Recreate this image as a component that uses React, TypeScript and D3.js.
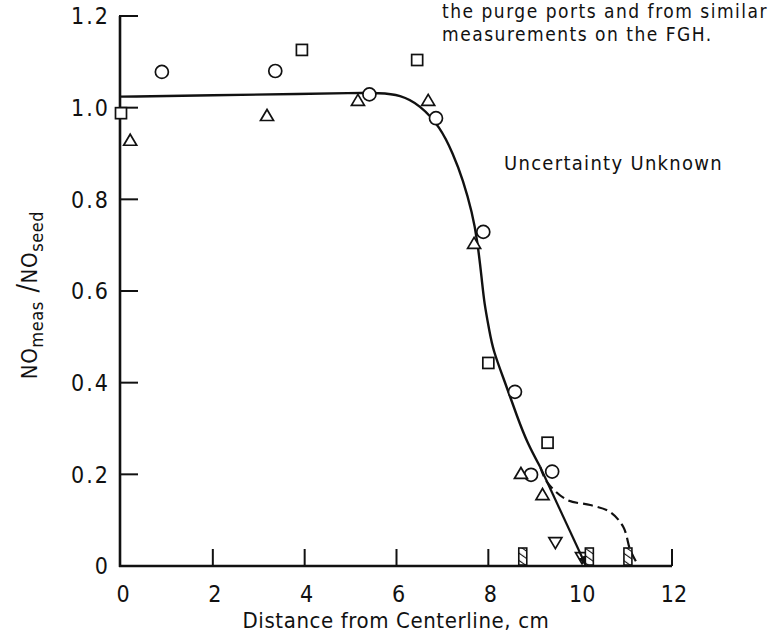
import React from 'react';
import * as d3 from 'd3';

// ---- data ----
const circleX = [0.89, 3.36, 5.41, 6.86, 7.89, 8.58, 8.93, 9.39];
const circleY = [1.078, 1.08, 1.029, 0.977, 0.729, 0.38, 0.199, 0.206];
const squareX = [0, 3.94, 6.45, 8.0, 9.29];
const squareY = [0.988, 1.126, 1.104, 0.443, 0.269];
const triUpX = [0.2, 3.18, 5.16, 6.69, 7.69, 8.71, 9.18];
const triUpY = [0.93, 0.984, 1.017, 1.017, 0.705, 0.203, 0.157];
const triDownX = [9.46, 10.04];
const triDownY = [0.05, 0.017];
const belowDetectX = [8.75, 10.2, 11.04];

const fitX = [0, 2, 4, 5.0, 5.64, 6.08, 6.51, 6.95, 7.23, 7.45, 7.65, 7.76, 7.86, 7.91, 8.02, 8.1, 8.37, 8.63, 8.85, 9.13];
const fitY = [1.024, 1.027, 1.03, 1.032, 1.032, 1.028, 1.006, 0.958, 0.9, 0.842, 0.77, 0.711, 0.624, 0.574, 0.515, 0.471, 0.399, 0.325, 0.268, 0.216];
const branchX = [9.13, 10.12];
const branchY = [0.216, 0.002];
const dashX = [9.13, 9.28, 9.72, 10.22, 10.65, 10.94, 11.09, 11.22];
const dashY = [0.216, 0.183, 0.144, 0.133, 0.118, 0.085, 0.035, 0.009];

const xTickLabels = [0, 2, 4, 6, 8, 10, 12];
const xTickMarks = [2, 4, 6, 8, 12];
const yTickLabels = ['0', '0.2', '0.4', '0.6', '0.8', '1.0', '1.2'];
const yTickValues = [0, 0.2, 0.4, 0.6, 0.8, 1.0, 1.2];

const FONT = "'DejaVu Sans Condensed', 'DejaVu Sans', sans-serif";

export default function App() {
  const x = d3.scaleLinear().domain([0, 12]).range([121, 672]);
  const y = d3.scaleLinear().domain([0, 1.2]).range([566, 16]);

  const smooth = d3.line<[number, number]>().x(d => x(d[0])).y(d => y(d[1])).curve(d3.curveBasis);
  const straight = d3.line<[number, number]>().x(d => x(d[0])).y(d => y(d[1]));
  const dashed = d3.line<[number, number]>().x(d => x(d[0])).y(d => y(d[1])).curve(d3.curveCatmullRom.alpha(0.5));

  const fit = fitX.map((v, i) => [v, fitY[i]] as [number, number]);
  const branch = branchX.map((v, i) => [v, branchY[i]] as [number, number]);
  const dash = dashX.map((v, i) => [v, dashY[i]] as [number, number]);

  const stroke = '#111';
  const r = 6.5;
  const sq = 11;
  const tri = (cx: number, cy: number, up: boolean) => {
    const h = 11, w = 13;
    return up
      ? `M${cx - w / 2},${cy + h / 2}L${cx + w / 2},${cy + h / 2}L${cx},${cy - h / 2}Z`
      : `M${cx - w / 2},${cy - h / 2}L${cx + w / 2},${cy - h / 2}L${cx},${cy + h / 2}Z`;
  };

  return (
    <svg width={775} height={638} style={{ position: 'absolute', left: 0, top: 0, background: '#fff' }}
      fontFamily={FONT}>
      <defs>
        <pattern id="hatch" patternUnits="userSpaceOnUse" width={6} height={6} patternTransform="rotate(-55)">
          <rect width={6} height={6} fill="#fff" />
          <line x1={0} y1={0} x2={0} y2={6} stroke="#111" strokeWidth={2.2} />
        </pattern>
        <marker id="arrow" viewBox="0 0 10 10" refX={9} refY={5} markerWidth={10} markerHeight={10}
          markerUnits="userSpaceOnUse" orient="auto">
          <path d="M0,1L10,5L0,9Z" fill="#111" />
        </marker>
      </defs>

      {/* axes */}
      <line x1={x(0) - 1} x2={x(0) - 1} y1={y(1.2)} y2={y(0) + 1} stroke={stroke} strokeWidth={2.6} />
      <line x1={x(0) - 2} x2={x(12)} y1={y(0)} y2={y(0)} stroke={stroke} strokeWidth={2.4} />
      {yTickValues.filter(v => v > 0).map(v => (
        <line key={'yt' + v} x1={x(0) - 2} x2={x(0) + 17} y1={y(v)} y2={y(v)} stroke={stroke} strokeWidth={2} />
      ))}
      {xTickMarks.map(v => (
        <line key={'xt' + v} x1={x(v)} x2={x(v)} y1={y(0)} y2={y(0) - 17} stroke={stroke} strokeWidth={2} />
      ))}

      {/* tick labels */}
      {yTickValues.map((v, i) => (
        <text key={'yl' + v} x={110} y={y(v)} dy="0.36em" textAnchor="end" fontSize={23} letterSpacing={2}
          fill="#111">{yTickLabels[i]}</text>
      ))}
      {xTickLabels.map(v => (
        <text key={'xl' + v} x={x(v) + 2} y={602} textAnchor="middle" fontSize={23} fill="#111">{v}</text>
      ))}

      {/* axis titles */}
      <text x={396} y={628} textAnchor="middle" fontSize={22} fill="#111" letterSpacing={0.6}>
        Distance from Centerline, cm
      </text>
      <text transform="translate(37,295) rotate(-90)" textAnchor="middle" fontSize={22} fill="#111" letterSpacing={0.6}>
        <tspan>NO</tspan><tspan fontSize={18} dy={6}>meas</tspan><tspan dy={-6} fontSize={28}> /</tspan><tspan>NO</tspan><tspan fontSize={18} dy={6}>seed</tspan>
      </text>

      {/* annotations */}
      <text x={442} y={18} fontSize={19} fill="#111" letterSpacing={1.5}>the purge ports and from similar</text>
      <text x={442} y={41} fontSize={19} fill="#111" letterSpacing={1.5}>measurements on the FGH.</text>
      <text x={504} y={170} fontSize={20} fill="#111" letterSpacing={1.3}>Uncertainty Unknown</text>

      {/* curves */}
      <path d={smooth(fit) || ''} fill="none" stroke={stroke} strokeWidth={2.4} />
      <path d={straight(branch) || ''} fill="none" stroke={stroke} strokeWidth={2.2} markerEnd="url(#arrow)" />
      <path d={dashed(dash) || ''} fill="none" stroke={stroke} strokeWidth={2.2} strokeDasharray="10,5" />

      {/* markers */}
      {circleX.map((v, i) => (
        <circle key={'c' + i} cx={x(v)} cy={y(circleY[i])} r={r} fill="#fff" stroke={stroke} strokeWidth={1.7} />
      ))}
      {squareX.map((v, i) => (
        <rect key={'s' + i} x={x(v) - sq / 2} y={y(squareY[i]) - sq / 2} width={sq} height={sq}
          fill="#fff" stroke={stroke} strokeWidth={1.7} />
      ))}
      {triUpX.map((v, i) => (
        <path key={'tu' + i} d={tri(x(v), y(triUpY[i]), true)} fill="#fff" stroke={stroke} strokeWidth={1.7} />
      ))}
      {triDownX.map((v, i) => (
        <path key={'td' + i} d={tri(x(v), y(triDownY[i]), false)} fill="none" stroke={stroke} strokeWidth={1.7} />
      ))}
      {belowDetectX.map((v, i) => (
        <rect key={'b' + i} x={x(v) - 4} y={y(0) - 18} width={8} height={17} fill="url(#hatch)"
          stroke={stroke} strokeWidth={1.6} />
      ))}
    </svg>
  );
}
